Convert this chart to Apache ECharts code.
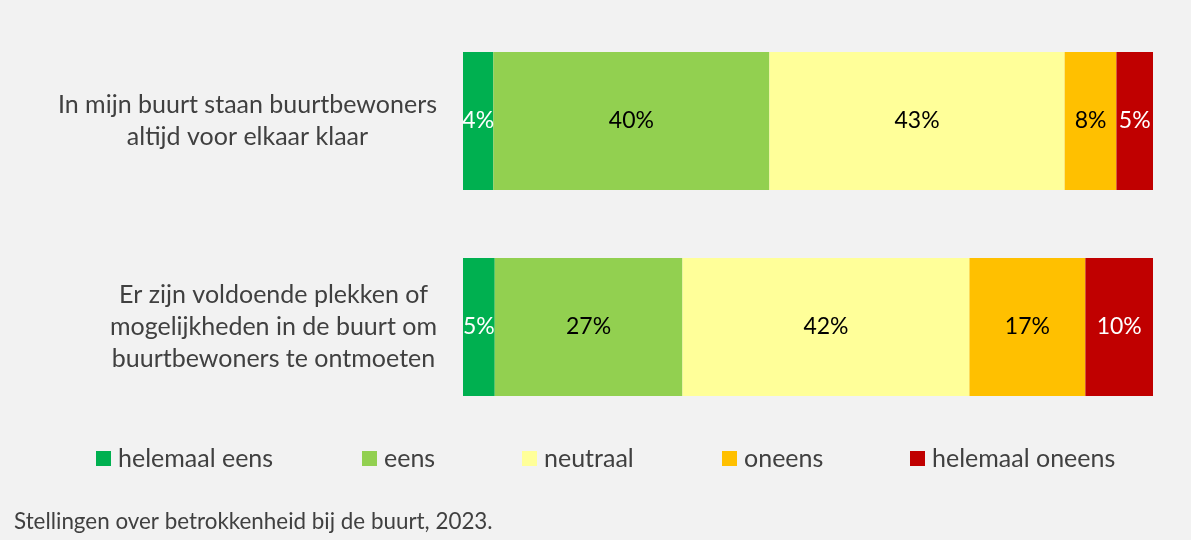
<!DOCTYPE html>
<html>
<head>
<meta charset="utf-8">
<script src="https://cdn.jsdelivr.net/npm/echarts@6/dist/echarts.min.js"></script>
<style>
html,body{margin:0;padding:0;background:#f2f2f2;}
#c{width:1191px;height:540px;}
</style>
</head>
<body>
<div id="c"></div>
<script>
var categories = [
  'In mijn buurt staan buurtbewoners\naltijd voor elkaar klaar',
  'Er zijn voldoende plekken of\nmogelijkheden in de buurt om\nbuurtbewoners te ontmoeten'
];
var seriesNames = ['helemaal eens', 'eens', 'neutraal', 'oneens', 'helemaal oneens'];
var helemaalEens = [4.4, 4.6];
var eens = [40.0, 27.2];
var neutraal = [42.8, 41.6];
var oneens = [7.5, 16.8];
var helemaalOneens = [5.3, 9.8];
var caption = 'Stellingen over betrokkenheid bij de buurt, 2023.';

var colors = ['#00B050', '#92D050', '#FFFF99', '#FFC000', '#C00000'];
var labelColors = ['#ffffff', '#000000', '#000000', '#000000', '#ffffff'];
var values = [helemaalEens, eens, neutraal, oneens, helemaalOneens];
var legendLeft = [96, 362, 522, 722, 910];
var FONT = 'Lato';

var series = seriesNames.map(function (n, i) {
  return {
    name: n,
    type: 'bar',
    stack: 'total',
    barWidth: '67%',
    data: values[i],
    itemStyle: { color: colors[i] },
    label: {
      show: true,
      position: 'inside',
      color: labelColors[i],
      fontFamily: FONT,
      fontSize: 23,
      formatter: function (p) { return Math.round(p.value) + '%'; }
    },
    emphasis: { disabled: true }
  };
});

var legends = seriesNames.map(function (n, i) {
  return {
    data: [n],
    left: legendLeft[i],
    top: 446,
    padding: 0,
    itemWidth: 15,
    itemHeight: 15,
    icon: 'rect',
    selectedMode: false,
    textStyle: { color: '#404040', fontFamily: FONT, fontSize: 25, padding: [0, 0, 0, 2] }
  };
});

var chart = echarts.init(document.getElementById('c'));
chart.setOption({
  backgroundColor: '#f2f2f2',
  animation: false,
  title: {
    text: caption,
    left: 14,
    top: 511,
    padding: 0,
    textStyle: { color: '#404040', fontFamily: FONT, fontSize: 22.4, fontWeight: 'normal' }
  },
  legend: legends,
  grid: { left: 463, right: 38, top: 18, height: 412, containLabel: false },
  xAxis: { type: 'value', min: 0, max: 100, show: false },
  yAxis: {
    type: 'category',
    inverse: true,
    data: categories,
    axisLine: { show: false },
    axisTick: { show: false },
    axisLabel: {
      margin: 26,
      formatter: function (v) {
        return v.split('\n').map(function (l) { return '{c|' + l + '}'; }).join('\n');
      },
      rich: {
        c: { align: 'center', color: '#404040', fontFamily: FONT, fontSize: 25, lineHeight: 32 }
      }
    }
  },
  series: series
});
</script>
</body>
</html>
